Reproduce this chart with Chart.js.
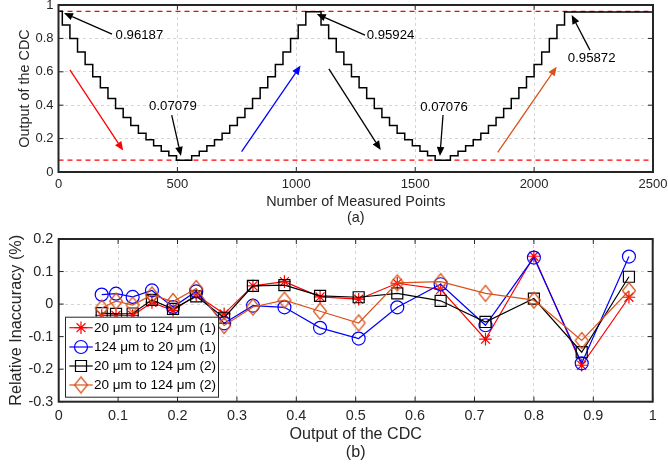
<!DOCTYPE html>
<html><head><meta charset="utf-8">
<script src="https://cdn.jsdelivr.net/npm/chart.js@4.4.1/dist/chart.umd.min.js"></script>
<style>
html,body{margin:0;padding:0;background:#fff;width:668px;height:466px;overflow:hidden}
#cA{position:absolute;left:0;top:0}
#cB{position:absolute;left:0;top:228px}
</style></head><body>
<canvas id="cA" width="668" height="228"></canvas>
<canvas id="cB" width="668" height="238"></canvas>
<script>
// ---------- DATA (top chart: staircase of CDC output) ----------
const stairX = [0,16,48,80,112,144,176,208,240,272,304,336,368,400,432,464,496,
  560,592,624,656,688,720,752,784,816,848,880,912,944,976,1008,1040,
  1104,1136,1168,1200,1232,1264,1296,1328,1360,1392,1424,1456,1488,1520,1552,1584,
  1648,1680,1712,1744,1776,1808,1840,1872,1904,1936,1968,2000,2032,2064,2096,2128,2500];
const stairY = [0.96187,0.880,0.800,0.718,0.643,0.570,0.505,0.440,0.380,0.327,0.278,0.232,0.193,0.157,0.125,0.097,0.07079,
  0.097,0.125,0.157,0.193,0.232,0.278,0.327,0.380,0.440,0.505,0.570,0.643,0.718,0.800,0.880,0.95924,
  0.880,0.800,0.718,0.643,0.570,0.505,0.440,0.380,0.327,0.278,0.232,0.193,0.157,0.125,0.097,0.07076,
  0.097,0.125,0.157,0.193,0.232,0.278,0.327,0.380,0.440,0.505,0.570,0.643,0.718,0.800,0.880,0.95872,0.95872];
const refLevels = [0.96187, 0.07079];
const annotValues = ['0.96187','0.07079','0.95924','0.07076','0.95872'];
const xTicksA = [0,500,1000,1500,2000,2500];
const yTicksA = [0,0.2,0.4,0.6,0.8,1];

// ---------- DATA (bottom chart: relative inaccuracy) ----------
const cdcOutput = [0.0724,0.0965,0.1245,0.1570,0.1925,0.2315,0.2785,0.3270,0.3800,0.4400,0.5050,0.5700,0.6430,0.7185,0.8000,0.8805,0.9600];
const seriesNames = ['20 \u03bcm to 124 \u03bcm (1)','124 \u03bcm to 20 \u03bcm (1)','20 \u03bcm to 124 \u03bcm (2)','20 \u03bcm to 124 \u03bcm (2)'];
const up1   = [-0.035,-0.035,-0.035,0.005,-0.020,0.028,-0.030,0.056,0.069,0.022,0.015,0.064,0.045,-0.108,0.147,-0.188,0.021];
const down1 = [0.029,0.032,0.022,0.042,-0.009,0.039,-0.059,-0.005,-0.010,-0.073,-0.106,-0.010,0.061,-0.065,0.143,-0.182,0.146];
const up2a  = [-0.028,-0.030,-0.029,0.013,-0.015,0.024,-0.042,0.056,0.058,0.025,0.021,0.033,0.010,-0.055,0.017,-0.148,0.084];
const up2b  = [-0.012,0.009,-0.003,0.028,0.008,0.048,-0.066,-0.009,0.012,-0.022,-0.058,0.065,0.069,0.033,0.012,-0.112,0.041];
const xTicksB = [0,0.1,0.2,0.3,0.4,0.5,0.6,0.7,0.8,0.9,1];
const yTicksB = [-0.3,-0.2,-0.1,0,0.1,0.2];

// ---------- STYLE ----------
const FONT = '"Liberation Sans", Arial, Helvetica, sans-serif';
const AXC = '#262626';
Chart.defaults.font.family = FONT;
Chart.defaults.color = AXC;
const ORANGE = '#d95319';

function makeDiamond(color, w, h, lw){
  const c = document.createElement('canvas');
  c.width = w + 3; c.height = h + 3;
  const g = c.getContext('2d');
  g.strokeStyle = color; g.lineWidth = lw;
  g.beginPath();
  g.moveTo(c.width/2, 1.5); g.lineTo(c.width-1.5, c.height/2);
  g.lineTo(c.width/2, c.height-1.5); g.lineTo(1.5, c.height/2);
  g.closePath(); g.stroke();
  return c;
}
const diamondImg = makeDiamond(ORANGE, 13, 16, 1.2);

function fmt(v){ return String(+(+v).toFixed(2)); }

// box + inward ticks (MATLAB style)
const boxPlugin = {
  id: 'boxTicks',
  afterDatasetsDraw(chart){
    const {ctx, chartArea: a, scales:{x, y}} = chart;
    ctx.save();
    ctx.strokeStyle = AXC;
    ctx.lineWidth = 1;
    const L = 5;
    ctx.beginPath();
    x.ticks.forEach(t => { const px = x.getPixelForValue(t.value);
      ctx.moveTo(px, a.bottom); ctx.lineTo(px, a.bottom - L);
      ctx.moveTo(px, a.top); ctx.lineTo(px, a.top + L); });
    y.ticks.forEach(t => { const py = y.getPixelForValue(t.value);
      ctx.moveTo(a.left, py); ctx.lineTo(a.left + L, py);
      ctx.moveTo(a.right, py); ctx.lineTo(a.right - L, py); });
    ctx.stroke();
    ctx.lineWidth = 2;
    ctx.strokeRect(a.left, a.top, a.right - a.left, a.bottom - a.top);
    ctx.restore();
  }
};

// ---------- TOP CHART ----------
const arrowsA = [
  {from:[225,0.826], to:[23,0.952], color:'#000000'},
  {from:[476,0.341], to:[515,0.096], color:'#000000'},
  {from:[48,0.611],  to:[272,0.128], color:'#ff0000'},
  {from:[770,0.122], to:[1018,0.637], color:'#0000ff'},
  {from:[1289,0.82], to:[1086,0.946], color:'#000000'},
  {from:[1137,0.617],to:[1355,0.132], color:'#000000'},
  {from:[1617,0.341],to:[1604,0.096], color:'#000000'},
  {from:[1847,0.118],to:[2095,0.630], color:ORANGE},
  {from:[2235,0.730],to:[2158,0.940], color:'#000000'}
];
const labelsA = [
  {i:0, x:240,  y:0.820, align:'left'},
  {i:1, x:481,  y:0.391, align:'center'},
  {i:2, x:1296, y:0.816, align:'left'},
  {i:3, x:1621, y:0.389, align:'center'},
  {i:4, x:2242, y:0.681, align:'center'}
];
const annotPlugin = {
  id: 'annot',
  afterDatasetsDraw(chart){
    const {ctx, scales:{x, y}} = chart;
    ctx.save();
    arrowsA.forEach(a => {
      const x1 = x.getPixelForValue(a.from[0]), y1 = y.getPixelForValue(a.from[1]);
      const x2 = x.getPixelForValue(a.to[0]), y2 = y.getPixelForValue(a.to[1]);
      const ang = Math.atan2(y2 - y1, x2 - x1);
      const hl = 9, hw = 3.8;
      const bx = x2 - hl*Math.cos(ang), by = y2 - hl*Math.sin(ang);
      ctx.strokeStyle = a.color; ctx.fillStyle = a.color; ctx.lineWidth = 1.3;
      ctx.beginPath(); ctx.moveTo(x1, y1); ctx.lineTo(bx, by); ctx.stroke();
      ctx.beginPath();
      ctx.moveTo(x2, y2);
      ctx.lineTo(bx + hw*Math.sin(ang), by - hw*Math.cos(ang));
      ctx.lineTo(bx - hw*Math.sin(ang), by + hw*Math.cos(ang));
      ctx.closePath(); ctx.fill();
    });
    ctx.fillStyle = '#000';
    ctx.font = '13.2px ' + FONT;
    ctx.textBaseline = 'middle';
    labelsA.forEach(l => {
      ctx.textAlign = l.align;
      ctx.fillText(annotValues[l.i], x.getPixelForValue(l.x), y.getPixelForValue(l.y));
    });
    ctx.restore();
  }
};

const gridCommon = {color:'rgba(0,0,0,0.17)', lineWidth:1, drawTicks:false};
const borderCommon = {display:false, dash:[3,3]};

new Chart(document.getElementById('cA'), {
  type: 'line',
  data: {
    datasets: [
      {data: stairX.map((v,i)=>({x:v, y:stairY[i]})), borderColor:'#000', borderWidth:1.5, stepped:true, pointRadius:0, fill:false, order:1},
      {data: [{x:xTicksA[0], y:refLevels[0]},{x:xTicksA[xTicksA.length-1], y:refLevels[0]}], borderColor:'#ff0000', borderWidth:1.3, borderDash:[5,4], pointRadius:0, order:2},
      {data: [{x:xTicksA[0], y:refLevels[1]},{x:xTicksA[xTicksA.length-1], y:refLevels[1]}], borderColor:'#ff0000', borderWidth:1.3, borderDash:[5,4], pointRadius:0, order:2}
    ]
  },
  options: {
    responsive:false, animation:false, events:[],
    layout:{padding:{left:0, right:15, top:5, bottom:0}},
    plugins:{legend:{display:false}, tooltip:{enabled:false}},
    scales:{
      x:{type:'linear', min:xTicksA[0], max:xTicksA[xTicksA.length-1],
        afterBuildTicks(s){ s.ticks = xTicksA.map(v=>({value:v})); },
        ticks:{font:{size:13}, color:AXC, padding:4.5, maxRotation:0, callback:v=>fmt(v)},
        grid:gridCommon, border:borderCommon,
        title:{display:true, text:['Number of Measured Points','(a)'], color:AXC, font:{size:14.4, lineHeight:1.13}, padding:{top:0, bottom:1.8}},
        afterFit(s){ s.height = 56; s.paddingLeft = 0; s.paddingRight = 0; }
      },
      y:{type:'linear', min:0, max:1,
        afterBuildTicks(s){ s.ticks = yTicksA.map(v=>({value:v})); },
        ticks:{font:{size:13}, color:AXC, padding:5, callback:v=>fmt(v)},
        grid:gridCommon, border:borderCommon,
        title:{display:true, text:'Output of the CDC', color:AXC, font:{size:14.4, lineHeight:1.2}, padding:{top:16.3, bottom:0}},
        afterFit(s){ s.width = 58.5; s.paddingTop = 0; s.paddingBottom = 0; }
      }
    }
  },
  plugins:[annotPlugin, boxPlugin]
});

// ---------- BOTTOM CHART ----------
const styleB = [
  {color:'#ff0000', pointStyle:'star', radius:6.3},
  {color:'#0000ff', pointStyle:'circle', radius:6.5},
  {color:'#000000', pointStyle:'rect', radius:7.8},
  {color:ORANGE, pointStyle:diamondImg, radius:8}
];
const seriesB = [up1, down1, up2a, up2b];

function drawMarker(ctx, st, x, y){
  if (st.pointStyle instanceof HTMLCanvasElement){
    const im = st.pointStyle;
    ctx.drawImage(im, x - im.width/2, y - im.height/2);
    return;
  }
  ctx.beginPath();
  const r = st.radius;
  if (st.pointStyle === 'circle'){ ctx.arc(x, y, r, 0, Math.PI*2); }
  else if (st.pointStyle === 'rect'){ const s = r*Math.SQRT1_2; ctx.rect(x-s, y-s, 2*s, 2*s); }
  else if (st.pointStyle === 'star'){
    ctx.moveTo(x-r, y); ctx.lineTo(x+r, y); ctx.moveTo(x, y-r); ctx.lineTo(x, y+r);
    const d = r*Math.SQRT1_2;
    ctx.moveTo(x-d, y-d); ctx.lineTo(x+d, y+d); ctx.moveTo(x-d, y+d); ctx.lineTo(x+d, y-d);
  }
  ctx.stroke();
}

const legendPlugin = {
  id:'legendBox',
  afterDraw(chart){
    const {ctx, chartArea:a} = chart;
    const bx = a.left + 6.3, by = a.top + 77.7, bw = 153, bh = 80;
    ctx.save();
    ctx.fillStyle = '#fff';
    ctx.fillRect(bx, by, bw, bh);
    ctx.strokeStyle = AXC; ctx.lineWidth = 1;
    ctx.strokeRect(bx + 0.5, by + 0.5, bw, bh);
    const rows = [11, 30.3, 49.3, 68.3];
    ctx.font = '13.5px ' + FONT;
    ctx.textBaseline = 'middle'; ctx.textAlign = 'left';
    seriesNames.forEach((name, i) => {
      const st = styleB[i], yy = by + rows[i];
      ctx.strokeStyle = st.color; ctx.lineWidth = 1.2;
      ctx.beginPath(); ctx.moveTo(bx + 4.3, yy); ctx.lineTo(bx + 27.7, yy); ctx.stroke();
      drawMarker(ctx, st, bx + 16, yy);
      ctx.fillStyle = '#000';
      ctx.fillText(name, bx + 29, yy + 0.5);
    });
    ctx.restore();
  }
};

new Chart(document.getElementById('cB'), {
  type:'line',
  data:{
    datasets: seriesB.map((s, i) => ({
      label: seriesNames[i],
      data: cdcOutput.map((v, k) => ({x:v, y:s[k]})),
      borderColor: styleB[i].color, borderWidth:1.2,
      pointStyle: styleB[i].pointStyle, pointRadius: styleB[i].radius,
      pointBorderColor: styleB[i].color, pointBackgroundColor:'rgba(0,0,0,0)', pointBorderWidth:1.2,
      fill:false, tension:0, order: 4 - i
    }))
  },
  options:{
    responsive:false, animation:false, events:[],
    layout:{padding:{left:0, right:15.3, top:11, bottom:0}},
    plugins:{legend:{display:false}, tooltip:{enabled:false}},
    scales:{
      x:{type:'linear', min:0, max:1,
        afterBuildTicks(s){ s.ticks = xTicksB.map(v=>({value:v})); },
        ticks:{font:{size:14.4}, color:AXC, padding:5.5, maxRotation:0, callback:v=>fmt(v)},
        grid:gridCommon, border:borderCommon,
        title:{display:true, text:['Output of the CDC','(b)'], color:AXC, font:{size:16.1, lineHeight:1.12}, padding:{top:0, bottom:4}},
        afterFit(s){ s.height = 64.3; s.paddingLeft = 0; s.paddingRight = 0; }
      },
      y:{type:'linear', min:-0.3, max:0.2,
        afterBuildTicks(s){ s.ticks = yTicksB.map(v=>({value:v})); },
        ticks:{font:{size:14.4}, color:AXC, padding:5.4, callback:v=>fmt(v)},
        grid:gridCommon, border:borderCommon,
        title:{display:true, text:'Relative Inaccuracy (%)', color:AXC, font:{size:16.2, lineHeight:1.2}, padding:{top:7.3, bottom:0}},
        afterFit(s){ s.width = 58.7; s.paddingTop = 0; s.paddingBottom = 0; }
      }
    }
  },
  plugins:[boxPlugin, legendPlugin]
});
</script>
</body></html>
